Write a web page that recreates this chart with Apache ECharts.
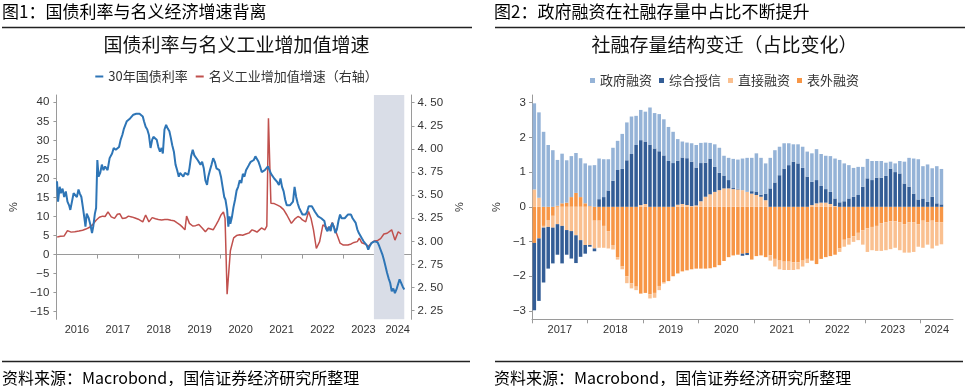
<!DOCTYPE html>
<html>
<head>
<meta charset="utf-8">
<script src="https://cdn.jsdelivr.net/npm/echarts@6/dist/echarts.min.js"></script>
<style>
html,body{margin:0;padding:0;background:#fff;}
#wrap{position:relative;width:966px;height:386px;overflow:hidden;}
#left{position:absolute;left:0;top:0;width:473px;height:386px;}
#right{position:absolute;left:483px;top:0;width:483px;height:386px;}
</style>
</head>
<body>
<div id="wrap"><div id="left"></div><div id="right"></div></div>
<script>
// ---------------- Left chart data ----------------
// 30-year government bond yield (%), right axis
const bondT = [2016.015,2016.04,2016.08,2016.11,2016.15,2016.19,2016.23,2016.27,2016.31,2016.34,2016.38,2016.42,2016.46,2016.50,2016.54,2016.57,2016.61,2016.65,2016.69,2016.71,2016.74,2016.79,2016.83,2016.87,2016.90,2016.94,2016.97,
2017.00,2017.03,2017.07,2017.11,2017.15,2017.19,2017.25,2017.30,2017.36,2017.40,2017.45,2017.49,2017.53,2017.57,2017.61,2017.65,2017.68,2017.72,2017.80,2017.88,2017.95,
2018.03,2018.11,2018.14,2018.18,2018.22,2018.26,2018.30,2018.34,2018.37,2018.41,2018.45,2018.49,2018.53,2018.57,2018.60,2018.64,2018.68,2018.72,2018.76,2018.79,2018.83,2018.87,2018.91,2018.95,2018.99,
2019.02,2019.06,2019.10,2019.14,2019.18,2019.22,2019.25,2019.29,2019.33,2019.37,2019.41,2019.45,2019.48,2019.52,2019.56,2019.60,2019.64,2019.68,2019.71,2019.75,2019.79,2019.83,2019.87,2019.91,2019.94,2019.98,
2020.02,2020.06,2020.10,2020.13,2020.17,2020.20,2020.23,2020.249,2020.287,2020.326,2020.364,2020.402,2020.440,2020.479,2020.517,2020.555,2020.594,2020.632,2020.670,2020.708,2020.747,2020.785,2020.823,2020.861,2020.900,2020.938,2020.976,
2021.015,2021.053,2021.091,2021.129,2021.168,2021.206,2021.244,2021.283,2021.321,2021.359,2021.397,2021.436,2021.474,2021.512,2021.551,2021.589,2021.627,2021.665,2021.704,2021.742,2021.780,2021.818,2021.857,2021.895,2021.933,2021.972,
2022.010,2022.048,2022.086,2022.125,2022.163,2022.201,2022.240,2022.278,2022.316,2022.354,2022.393,2022.431,2022.469,2022.507,2022.546,2022.584,2022.622,2022.660,2022.699,2022.737,2022.775,2022.814,2022.852,2022.890,2022.929,2022.967,
2023.005,2023.043,2023.082,2023.120,2023.158,2023.196,2023.235,2023.273,2023.311,2023.350,2023.388,2023.426,2023.464,2023.503,2023.541,2023.579,2023.618,2023.656,2023.694,2023.732,2023.771,2023.809,2023.847,2023.885,2023.924,2023.962,
2024.000,2024.039,2024.077,2024.115,2024.154,2024.192,2024.230,2024.269,2024.307,2024.345,2024.383,2024.421,2024.460,2024.498];
const bondYield = [3.65,3.43,3.59,3.52,3.57,3.48,3.54,3.43,3.39,3.34,3.43,3.52,3.54,3.48,3.56,3.52,3.48,3.36,3.23,3.16,3.30,3.25,3.18,3.09,3.16,3.30,3.36,
3.88,3.70,3.74,3.83,3.77,3.81,3.77,3.90,3.95,4.01,3.99,3.97,4.02,4.10,4.15,4.22,4.24,4.30,4.33,4.37,4.38,
4.38,4.35,4.30,4.24,4.21,4.15,4.01,4.10,4.13,4.11,4.10,4.02,3.97,4.01,3.95,4.21,4.26,4.22,4.19,4.13,4.04,3.97,3.83,3.77,3.70,
3.74,3.75,3.70,3.74,3.75,3.72,3.79,3.92,3.99,3.93,3.95,3.88,3.86,3.83,3.86,3.79,3.66,3.61,3.70,3.77,3.83,3.90,3.86,3.79,3.81,3.77,
3.70,3.59,3.48,3.45,3.34,3.16,3.27,3.19,3.26,3.37,3.45,3.55,3.59,3.66,3.63,3.73,3.70,3.77,3.79,3.83,3.86,3.84,3.88,3.92,3.93,3.86,3.81,
3.75,3.73,3.77,3.79,3.81,3.77,3.73,3.71,3.68,3.70,3.64,3.61,3.68,3.59,3.54,3.45,3.39,3.41,3.39,3.41,3.43,3.59,3.48,3.41,3.36,3.34,
3.29,3.30,3.29,3.32,3.38,3.39,3.38,3.35,3.32,3.30,3.27,3.29,3.25,3.23,3.22,3.14,3.11,3.16,3.11,3.20,3.16,3.09,3.13,3.22,3.29,3.25,
3.27,3.25,3.27,3.29,3.30,3.29,3.25,3.23,3.20,3.13,3.09,3.06,3.03,3.00,2.98,2.96,2.91,2.95,2.98,3.00,3.00,2.98,2.99,2.95,2.93,2.86,
2.80,2.73,2.66,2.60,2.55,2.46,2.49,2.44,2.48,2.46,2.59,2.55,2.51,2.48];

// Nominal industrial value-added growth (%), left axis
const ipT = [2016.02,2016.10,2016.19,2016.27,2016.36,2016.45,2016.55,2016.64,2016.72,2016.80,2016.88,2016.97,
2017.05,2017.13,2017.19,2017.26,2017.34,2017.42,2017.49,2017.55,2017.61,2017.69,2017.76,2017.84,2017.92,
2018.00,2018.05,2018.11,2018.18,2018.26,2018.34,2018.42,2018.49,2018.57,2018.65,2018.72,2018.80,2018.87,2018.95,
2019.02,2019.08,2019.14,2019.18,2019.25,2019.33,2019.40,2019.48,2019.56,2019.64,2019.71,2019.75,2019.83,2019.90,2019.96,
2020.02,2020.08,2020.12,2020.17,2020.25,2020.33,2020.40,2020.48,2020.55,2020.63,2020.71,2020.78,2020.85,2020.90,2020.96,
2021.01,2021.09,2021.14,2021.18,2021.24,2021.32,2021.40,2021.47,2021.55,2021.63,2021.70,2021.74,2021.82,2021.90,2021.96,
2022.01,2022.09,2022.16,2022.22,2022.28,2022.35,2022.43,2022.51,2022.58,2022.66,2022.74,2022.81,2022.88,2022.93,
2023.01,2023.12,2023.20,2023.27,2023.35,2023.40,2023.46,2023.54,2023.62,2023.69,2023.77,2023.85,2023.92,
2024.00,2024.08,2024.12,2024.19,2024.27,2024.35,2024.42];
const ipGrowth = [4.6,4.8,4.9,6.3,5.9,6.0,6.2,6.4,6.7,7.1,7.8,9.0,
9.8,10.1,10.0,11.2,9.9,9.5,10.6,10.7,9.5,9.6,10.1,9.9,9.6,
9.3,9.0,8.6,10.4,8.6,9.7,9.4,9.2,9.1,9.2,9.2,9.0,8.9,8.3,
7.8,7.2,6.5,10.1,8.2,7.5,7.6,7.9,7.0,6.0,6.9,7.3,6.5,7.8,9.0,
10.4,11.2,9.5,-10.4,1.0,4.4,5.0,5.2,5.1,5.4,5.7,6.5,6.2,5.9,6.5,
7.0,6.5,7.5,35.8,13.5,13.4,13.0,12.6,11.8,10.4,9.0,8.2,9.3,10.0,9.7,
9.1,8.6,11.3,9.5,6.5,1.6,3.4,7.8,7.3,6.5,8.4,6.5,4.5,3.0,
2.5,2.5,2.8,3.2,3.4,4.3,3.1,2.8,2.1,3.0,3.6,3.7,4.2,
5.4,5.6,5.8,6.5,3.8,6.0,5.4];

const bandStart = 2023.756, bandEnd = 2024.498;
const leftYearTicks = [2016,2017,2018,2019,2020,2021,2022,2023,2024];
const leftXMax = 2024.675;
const leftYTicks = [-15,-10,-5,0,5,10,15,20,25,30,35,40];
const rightYTicks = [2.25,2.5,2.75,3.0,3.25,3.5,3.75,4.0,4.25,4.5];

// ---------------- Right chart data (monthly, 2017-01 .. 2024-05) ----------------
const govFin = [2.48,2.46,2.16,1.78,1.63,1.32,1.43,1.22,1.18,1.15,1.12,1.15,
1.17,1.2,1.17,1.09,0.9,0.95,0.84,1.01,1.09,1.08,0.84,0.87,
0.86,1.07,1.02,1.07,1.04,0.98,0.9,0.62,0.46,0.45,0.53,0.65,
0.58,0.58,0.45,0.65,0.72,0.57,0.64,0.84,0.84,0.91,0.98,0.96,
1.1,1.06,0.87,0.88,0.93,0.82,0.73,0.63,0.5,0.55,0.61,0.72,
0.82,0.89,0.92,0.96,1.03,1.15,1.22,1.09,0.96,0.83,0.81,0.57,
0.56,0.55,0.48,0.48,0.38,0.2,0.25,0.36,0.63,0.83,1.01,1.16,
0.93,1.08,0.82,1.07,1.02];
const creditFin = [-1.94,-1.8,-1.58,-1.2,-1.03,-0.88,-1.08,-0.71,-0.79,-0.8,-0.48,-0.25,
-0.05,-0.08,0.22,0.28,0.47,0.75,1.06,1.09,1.34,1.52,1.78,1.87,
1.8,1.79,1.68,1.6,1.48,1.32,1.26,1.27,1.34,1.35,1.28,1.09,
1.1,0.98,1.03,0.72,0.5,0.37,0.24,0.03,0.02,-0.06,-0.06,0.07,
0.1,0.06,0.19,0.53,0.7,0.91,1.1,1.2,1.3,1.25,1.12,0.87,
0.67,0.67,0.48,0.39,0.35,0.22,0.13,0.16,0.24,0.29,0.34,0.58,
0.82,0.77,0.84,0.84,0.89,1.1,1.0,0.96,0.67,0.58,0.38,0.21,
0.24,0.14,0.29,0.1,0.07];
const directFin = [0.5,0.26,-0.05,-0.2,-0.34,-0.5,-0.55,-0.67,-0.7,-0.82,-0.96,-1.1,
-1.1,-0.8,-0.78,-0.63,-0.5,-0.13,-0.07,-0.08,-0.2,-0.15,-0.1,0.05,
0.08,-0.12,-0.14,-0.12,-0.03,0.0,0.0,0.06,0.08,0.05,0.02,0.04,
0.16,0.29,0.36,0.43,0.48,0.53,0.53,0.51,0.5,0.48,0.43,0.38,
0.34,0.29,0.19,-0.15,-0.22,-0.25,-0.24,-0.24,-0.22,-0.2,-0.17,-0.12,
0.05,0.1,0.12,0.12,0.08,0.02,-0.1,-0.2,-0.19,-0.16,-0.21,-0.41,
-0.68,-0.67,-0.72,-0.8,-0.8,-0.8,-0.76,-0.8,-0.82,-0.87,-0.85,-0.65,
-0.78,-0.64,-0.8,-0.67,-0.63];
const offBsFin = [-1.04,-0.91,-0.55,-0.38,-0.26,0.03,0.1,0.12,0.28,0.4,0.28,0.1,
0.02,-0.4,-0.4,-0.55,-0.7,-1.1,-1.45,-1.72,-2.0,-2.2,-2.3,-2.5,
-2.48,-2.52,-2.48,-2.28,-2.18,-2.14,-2.0,-1.92,-1.86,-1.83,-1.8,-1.78,
-1.78,-1.78,-1.77,-1.74,-1.68,-1.56,-1.45,-1.4,-1.38,-1.35,-1.33,-1.52,
-1.42,-1.4,-1.45,-1.4,-1.5,-1.55,-1.58,-1.58,-1.6,-1.6,-1.55,-1.5,
-1.55,-1.65,-1.5,-1.45,-1.42,-1.38,-1.2,-0.95,-0.9,-0.85,-0.75,-0.68,
-0.62,-0.58,-0.55,-0.47,-0.45,-0.42,-0.42,-0.45,-0.5,-0.45,-0.45,-0.5,
-0.4,-0.45,-0.4,-0.45,-0.45];
const barStartYear = 2017;
const barMonthSlots = 91;           // axis runs 2017-01 .. 2024-07
const barYearTicks = [0,12,24,36,48,60,72,84];
const barYearLabelPos = [6,18,30,42,54,66,78,87.5];
const barYTicks = [-3,-2,-1,0,1,2,3];

const months = [];
for (let i = 0; i < barMonthSlots; i++) {
  const y = barStartYear + Math.floor(i / 12), m = (i % 12) + 1;
  months.push(y + '-' + (m < 10 ? '0' + m : m));
}

// ---------------- styling ----------------
const CJK = '"Noto Sans CJK SC", "Noto Sans", sans-serif';
const NUM = '"Liberation Sans", Arial, sans-serif';
const AX = '#9a9a9a';
const TXT = '#333';
const minus = v => (v < 0 ? '\u2212' + Math.abs(v) : String(v));

function frame(header, title, hx, lineX1, lineX2, cx) {
  return [
    {type:'text', left:hx, top:3, style:{text:header, fontSize:17, fontFamily:CJK, fill:'#000'}},
    {type:'line', shape:{x1:lineX1, y1:27.5, x2:lineX2, y2:27.5}, style:{stroke:'#222', lineWidth:1.5}},
    {type:'text', x:cx, y:45, style:{text:title, align:'center', verticalAlign:'middle', fontSize:19, fontFamily:CJK, fill:'#111'}},
    {type:'line', shape:{x1:lineX1, y1:361.5, x2:lineX2-2, y2:361.5}, style:{stroke:'#222', lineWidth:1.5}},
    {type:'text', x:hx, y:378, style:{text:'资料来源：Macrobond，国信证券经济研究所整理', verticalAlign:'middle', fontSize:16, fontFamily:CJK, fill:'#000'}}
  ];
}

const bondData = bondT.map((t, i) => [t, bondYield[i]]);
const ipData = ipT.map((t, i) => [t, ipGrowth[i]]);
const yearLabelPos = leftYearTicks.slice(0, -1).map(y => y + 0.5).concat([(2024 + leftXMax) / 2]);

const leftChart = echarts.init(document.getElementById('left'), null, {renderer:'canvas'});
leftChart.setOption({
  animation:false,
  graphic: frame('图1：国债利率与名义经济增速背离', '国债利率与名义工业增加值增速', 2, 2, 472, 236.5),
  legend:{
    left:'center', top:65, icon:'rect', itemWidth:8, itemHeight:2, itemGap:8,
    textStyle:{fontSize:13, color:TXT, fontFamily:CJK},
    data:['30年国债利率','名义工业增加值增速（右轴）']
  },
  grid:{left:45, top:95, width:377.7, height:224.3},
  xAxis:{
    type:'value', min:2016, max:leftXMax,
    axisLine:{show:true, lineStyle:{color:AX}},
    axisTick:{show:true, customValues:leftYearTicks, length:4, lineStyle:{color:AX}},
    axisLabel:{customValues:yearLabelPos, formatter:v => String(Math.floor(v + 1e-6)), fontSize:11, color:TXT, fontFamily:NUM, margin:5},
    splitLine:{show:false}
  },
  yAxis:[
    {type:'value', min:-17, max:41.92, position:'left',
     axisLine:{show:true, lineStyle:{color:AX}},
     axisTick:{show:true, customValues:leftYTicks, length:3, lineStyle:{color:AX}},
     axisLabel:{customValues:leftYTicks, formatter:minus, fontSize:11.5, color:TXT, fontFamily:NUM, margin:7},
     splitLine:{show:false},
     name:'%', nameLocation:'middle', nameGap:28, nameRotate:90, nameTextStyle:{fontSize:11, color:TXT, fontFamily:NUM}},
    {type:'value', min:2.157, max:4.583, position:'right',
     axisLine:{show:true, lineStyle:{color:AX}},
     axisTick:{show:true, customValues:rightYTicks, length:3, lineStyle:{color:AX}},
     axisLabel:{customValues:rightYTicks, formatter:v => v.toFixed(2).replace('.', '. '), fontSize:11.5, color:TXT, fontFamily:NUM, margin:6},
     splitLine:{show:false},
     name:'%', nameLocation:'middle', nameGap:36, nameRotate:90, nameTextStyle:{fontSize:11, color:TXT, fontFamily:NUM}}
  ],
  series:[
    {name:'30年国债利率', type:'line', yAxisIndex:1, data:bondData, showSymbol:false, symbol:'none',
     lineStyle:{color:'#2e75b6', width:2}, itemStyle:{color:'#2e75b6'}, z:4},
    {name:'名义工业增加值增速（右轴）', type:'line', yAxisIndex:0, data:ipData, showSymbol:false, symbol:'none',
     lineStyle:{color:'#c0504d', width:1.5}, itemStyle:{color:'#c0504d'}, z:3,
     markArea:{silent:true, itemStyle:{color:'#d9dde7'}, data:[[{xAxis:bandStart},{xAxis:bandEnd}]]}}
  ]
});

const rightChart = echarts.init(document.getElementById('right'), null, {renderer:'canvas'});
const barColors = {'政府融资':'#95b3d7','综合授信':'#335d96','直接融资':'#fac090','表外融资':'#f79646'};
function barSeries(name, data) {
  return {name, type:'bar', stack:'total', xAxisIndex:0, data, barCategoryGap:'24%',
          itemStyle:{color:barColors[name]}, emphasis:{disabled:true}};
}
rightChart.setOption({
  animation:false,
  graphic: frame('图2：政府融资在社融存量中占比不断提升', '社融存量结构变迁（占比变化）', 11, 12, 482, 241.5),
  legend:{
    left:'center', top:69, icon:'rect', itemWidth:5, itemHeight:5, itemGap:7,
    textStyle:{fontSize:13, color:TXT, fontFamily:CJK},
    data:['政府融资','综合授信','直接融资','表外融资']
  },
  grid:{left:48.7, top:95, width:421.3, height:224.3},
  xAxis:[
    {type:'category', data:months, boundaryGap:true, show:false},
    {type:'value', min:0, max:barMonthSlots, position:'bottom',
     axisLine:{show:true, onZero:false, lineStyle:{color:AX}},
     axisTick:{show:true, customValues:barYearTicks, length:4, lineStyle:{color:AX}},
     axisLabel:{customValues:barYearLabelPos, formatter:v => String(barStartYear + Math.floor(v / 12)), fontSize:11, color:TXT, fontFamily:NUM, margin:5},
     splitLine:{show:false}}
  ],
  yAxis:{type:'value', min:-3.24, max:3.22,
    axisLine:{show:true, lineStyle:{color:AX}},
    axisTick:{show:true, customValues:barYTicks, length:3, lineStyle:{color:AX}},
    axisLabel:{customValues:barYTicks, formatter:minus, fontSize:11.5, color:TXT, fontFamily:NUM, margin:6},
    splitLine:{show:false},
    name:'%', nameLocation:'middle', nameGap:24, nameRotate:90, nameTextStyle:{fontSize:11, color:TXT, fontFamily:NUM}},
  series:[
    barSeries('表外融资', offBsFin),
    barSeries('直接融资', directFin),
    barSeries('综合授信', creditFin),
    barSeries('政府融资', govFin)
  ]
});
</script>
</body>
</html>
